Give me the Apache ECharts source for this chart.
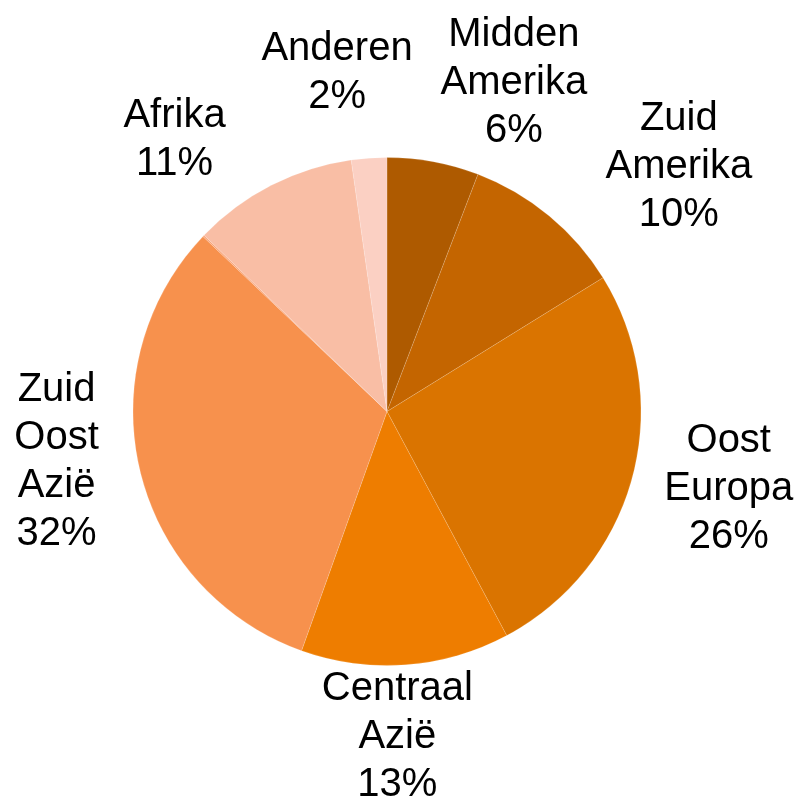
<!DOCTYPE html>
<html><head><meta charset="utf-8">
<script src="https://cdn.jsdelivr.net/npm/echarts@6/dist/echarts.min.js"></script>
<style>html,body{margin:0;padding:0;background:#fff}#c{width:802px;height:802px}</style>
</head><body><div id="c"></div>
<script>
// Data (percent shares, clockwise from 12 o'clock)
const categories = ['Midden Amerika', 'Zuid Amerika', 'Oost Europa', 'Centraal Azië', 'Zuid Oost Azië', 'Overig', 'Afrika', 'Anderen'];
const shares = [5.83, 10.35, 26.01, 13.27, 31.64, 0.1, 10.55, 2.25];
const hiddenLabel = [false, false, false, false, false, true, false, false];

// Styles / layout
const sliceColors = ['#AE5A00', '#C46500', '#DA7400', '#EE7D00', '#F7914D', '#F9A57A', '#F9BEA5', '#FBD0C3'];
const labelShiftDeg = [10.5, 10.2, -2.6, 2.4, 5.0, 0, -10.8, -4.3];
const labelRadius = [354, 382, 350, 324, 334, 0, 346, 344];
const labelDy = 2;
const cx = 387, cy = 411.5, R = 254;

const total = shares.reduce((a, b) => a + b, 0);
const midAngles = [];
let acc = 0;
shares.forEach(v => { midAngles.push((acc + v / 2) / total * 360); acc += v; });

const chart = echarts.init(document.getElementById('c'), null, { renderer: 'canvas' });
chart.setOption({
  animation: false,
  backgroundColor: '#ffffff',
  series: [{
    type: 'pie',
    center: [cx, cy],
    radius: R,
    startAngle: 90,
    clockwise: true,
    avoidLabelOverlap: false,
    itemStyle: { borderColor: 'rgba(255,255,255,0.3)', borderWidth: 0.5 },
    label: {
      show: true,
      position: 'outside',
      fontFamily: '"Liberation Sans", Arial, sans-serif',
      fontSize: 40,
      lineHeight: 48,
      color: '#000',
      formatter: p => p.name.replace(/ /g, '\n') + '\n' + Math.round(p.value) + '%'
    },
    labelLine: { show: false },
    labelLayout: function (p) {
      const i = p.dataIndex;
      const a = (midAngles[i] + labelShiftDeg[i]) * Math.PI / 180;
      return {
        x: cx + labelRadius[i] * Math.sin(a),
        y: cy - labelRadius[i] * Math.cos(a) + labelDy,
        align: 'center',
        verticalAlign: 'middle'
      };
    },
    emphasis: { disabled: true },
    data: categories.map((name, i) => ({
      name: name,
      value: shares[i],
      itemStyle: { color: sliceColors[i] },
      label: hiddenLabel[i] ? { show: false } : undefined
    }))
  }]
});
</script>
</body></html>
